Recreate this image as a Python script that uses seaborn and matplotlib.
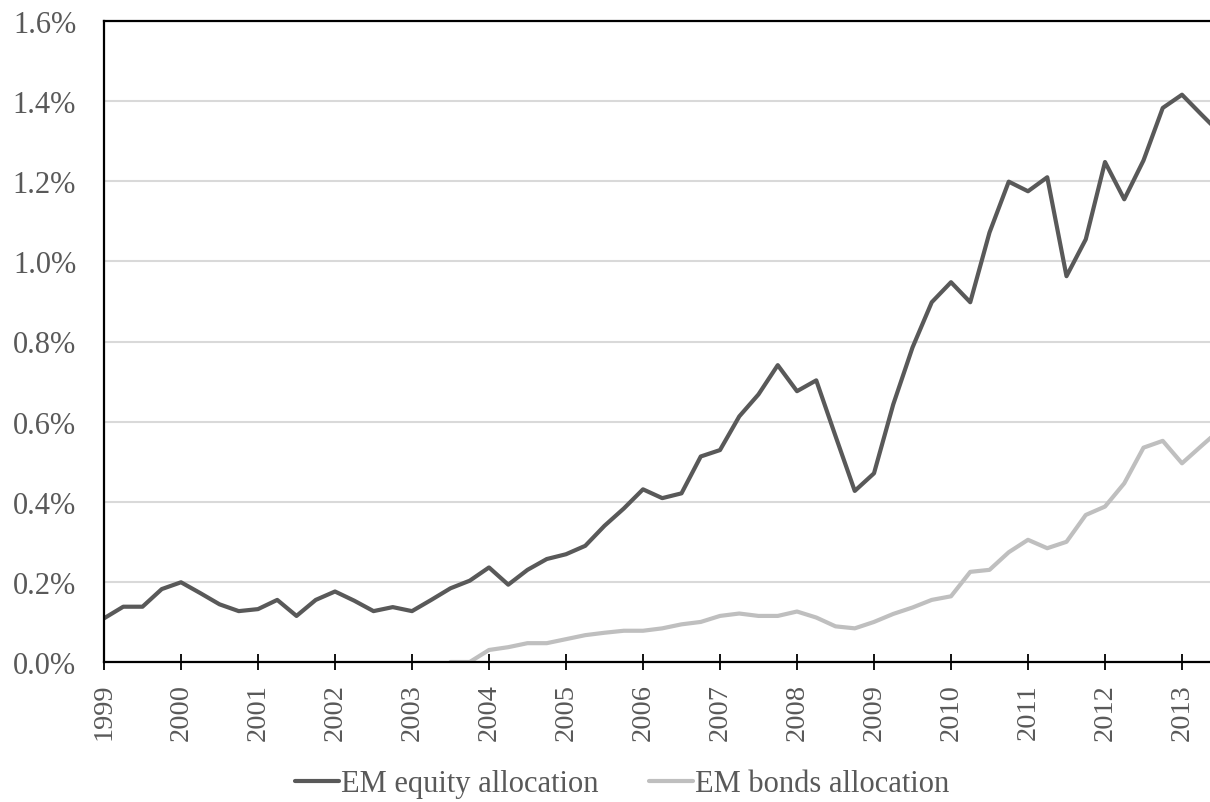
"""EM equity and bond allocations, quarterly 1999-2013."""

import matplotlib
matplotlib.use("Agg")
import matplotlib.pyplot as plt
from matplotlib.ticker import PercentFormatter, MultipleLocator
import numpy as np
import pandas as pd
import seaborn as sns

# Quarterly observations (decimal year), values in percent
quarters = np.arange(1999.0, 2013.51, 0.25)

equity_alloc = [
    0.109, 0.138, 0.138, 0.182,  # 1999
    0.199, 0.172, 0.144, 0.127,  # 2000
    0.132, 0.155, 0.115, 0.155,  # 2001
    0.176, 0.153, 0.127, 0.137,  # 2002
    0.127, 0.155, 0.184, 0.203,  # 2003
    0.236, 0.193, 0.230, 0.257,  # 2004
    0.269, 0.290, 0.340, 0.383,  # 2005
    0.431, 0.409, 0.421, 0.513,  # 2006
    0.529, 0.613, 0.668, 0.741,  # 2007
    0.676, 0.703, 0.564, 0.427,  # 2008
    0.471, 0.643, 0.785, 0.898,  # 2009
    0.948, 0.898, 1.072, 1.199,  # 2010
    1.175, 1.210, 0.963, 1.055,  # 2011
    1.248, 1.155, 1.252, 1.383,  # 2012
    1.416, 1.367, 1.319,         # 2013
]

# bond series only starts mid-2003
bonds_start = 2003.5
bonds_alloc = [
    0.000, 0.000,                # 2003 H2
    0.030, 0.037, 0.047, 0.047,  # 2004
    0.057, 0.067, 0.073, 0.078,  # 2005
    0.078, 0.084, 0.094, 0.100,  # 2006
    0.115, 0.121, 0.115, 0.115,  # 2007
    0.126, 0.111, 0.089, 0.084,  # 2008
    0.100, 0.120, 0.136, 0.155,  # 2009
    0.164, 0.225, 0.230, 0.274,  # 2010
    0.305, 0.284, 0.300, 0.367,  # 2011
    0.388, 0.446, 0.535, 0.552,  # 2012
    0.496, 0.539, 0.581,         # 2013
]

series_names = ["EM equity allocation", "EM bonds allocation"]
series_colors = ["#595959", "#bfbfbf"]
year_ticks = list(range(1999, 2014))

TEXT = "#595959"

sns.set_theme(style="white")
plt.rcParams["font.family"] = ["Liberation Serif", "DejaVu Serif"]

bond_q = quarters[quarters >= bonds_start - 1e-9]
df = pd.concat([
    pd.DataFrame({"quarter": quarters, "value": equity_alloc, "series": series_names[0]}),
    pd.DataFrame({"quarter": bond_q, "value": bonds_alloc, "series": series_names[1]}),
], ignore_index=True)

fig = plt.figure(figsize=(12.10, 8.03), dpi=100)
# axes runs a little past the right edge of the figure, as in the source
ax = fig.add_axes([104 / 1210, 1 - 663 / 803, 1116.5 / 1210, 641 / 803])

sns.lineplot(data=df, x="quarter", y="value", hue="series",
             hue_order=series_names, palette=series_colors,
             linewidth=3, ax=ax, legend=True)

ax.set_xlim(1999, 2013.5)
ax.set_ylim(0, 1.6)
ax.yaxis.set_major_locator(MultipleLocator(0.2))
ax.yaxis.set_major_formatter(PercentFormatter(xmax=100, decimals=1))
ax.set_xticks(year_ticks)
ax.set_xticklabels([str(y) for y in year_ticks], rotation=90)
ax.set_xlabel("")
ax.set_ylabel("")

ax.grid(axis="y", color="#d9d9d9", linewidth=1.5)
ax.set_axisbelow(True)
for side in ["left", "top", "bottom"]:
    ax.spines[side].set_color("black")
    ax.spines[side].set_linewidth(1.6)
ax.spines["right"].set_visible(False)

ax.tick_params(axis="x", which="major", direction="inout", length=12,
               width=1.3, color="black", bottom=True, pad=9,
               labelsize=20.5, labelcolor=TEXT)
ax.tick_params(axis="y", length=0, pad=20, labelsize=22, labelcolor=TEXT)

handles, labels = ax.get_legend_handles_labels()
ax.get_legend().remove()
fig.legend(handles, labels, loc="center",
           bbox_to_anchor=(622 / 1210, 1 - 785 / 803), ncol=2,
           frameon=False, fontsize=22, labelcolor=TEXT,
           handlelength=1.45, handletextpad=0.05, columnspacing=1.65)

fig.savefig("out.png", dpi=100)
plt.close(fig)
